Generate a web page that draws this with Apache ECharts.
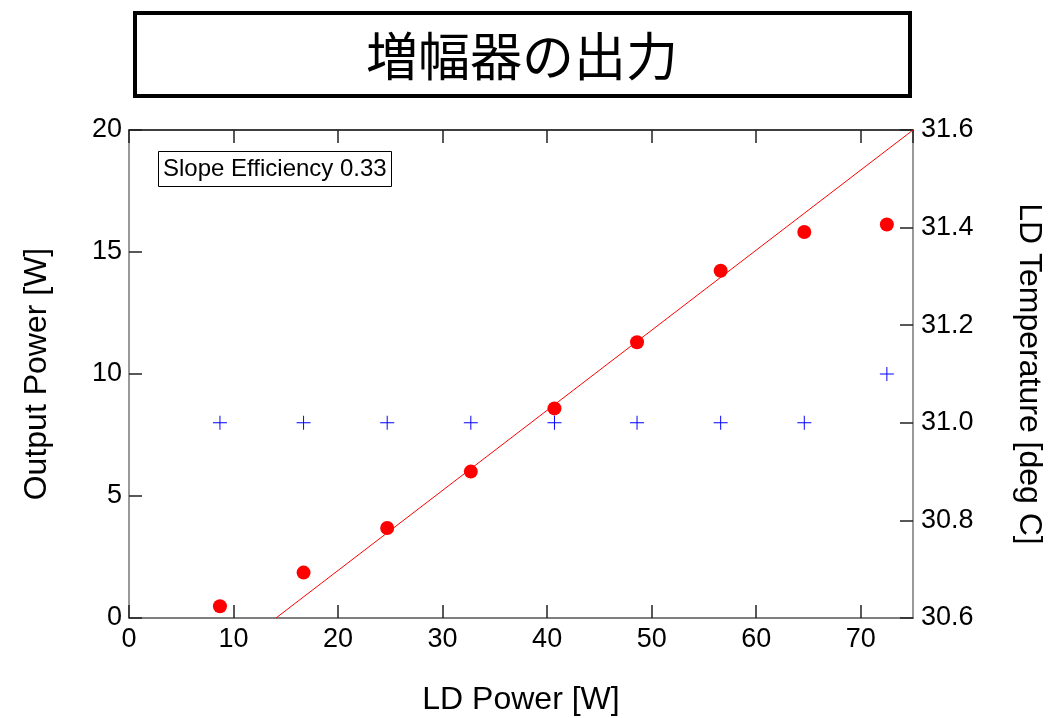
<!DOCTYPE html>
<html>
<head>
<meta charset="utf-8">
<script src="https://cdn.jsdelivr.net/npm/echarts@6/dist/echarts.min.js"></script>
<style>html,body{margin:0;padding:0;background:#fff;}#chart{width:1055px;height:718px;}</style>
</head>
<body>
<div id="chart"></div>
<script>
// ---- data ----
var ldPower = [8.7, 16.7, 24.7, 32.7, 40.7, 48.6, 56.6, 64.6, 72.5];
var outputPower = [0.48, 1.86, 3.69, 6.0, 8.59, 11.3, 14.23, 15.82, 16.13];
var ldTemperature = [31.0, 31.0, 31.0, 31.0, 31.0, 31.0, 31.0, 31.0, 31.1];
var fitX = [14.06, 75];
var fitY = [0, 20];
var titleText = '増幅器の出力';
var slopeText = 'Slope Efficiency 0.33';
var xName = 'LD Power [W]';
var yLeftName = 'Output Power [W]';
var yRightName = 'LD Temperature [deg C]';

function zip(a, b) { return a.map(function (v, i) { return [v, b[i]]; }); }

var FONT = "'Liberation Sans', Arial, sans-serif";
var crossPath = 'path://M9.3,0H10.7V9.3H20V10.7H10.7V20H9.3V10.7H0V9.3H9.3Z';

var chart = echarts.init(document.getElementById('chart'), null, {renderer: 'canvas'});
var option = {
  animation: false,
  backgroundColor: '#fff',
  textStyle: {fontFamily: FONT},
  title: [{
    text: slopeText,
    left: 158, top: 151,
    borderColor: '#000', borderWidth: 1,
    padding: [6, 5, 6, 5],
    textStyle: {fontFamily: FONT, fontSize: 24, fontWeight: 'normal', color: '#000'}
  }],
  graphic: [{
    type: 'rect',
    shape: {x: 135, y: 13, width: 775, height: 83},
    style: {fill: '#fff', stroke: '#000', lineWidth: 4}
  }, {
    type: 'text',
    x: 522, y: 56,
    style: {
      text: titleText,
      font: "normal 52px 'Noto Sans CJK JP'",
      fill: '#000',
      align: 'center',
      verticalAlign: 'middle'
    }
  }],
  grid: {left: 129, right: 142, top: 130, bottom: 100, containLabel: false, outerBoundsMode: 'none'},
  xAxis: [{
    type: 'value', min: 0, max: 75, interval: 10,
    position: 'bottom',
    name: xName, nameLocation: 'middle', nameGap: 66,
    nameTextStyle: {fontFamily: FONT, fontSize: 32, color: '#000'},
    axisLine: {show: true, onZero: false, lineStyle: {color: '#555', width: 1.5}},
    axisTick: {show: true, inside: true, length: 13, lineStyle: {color: '#222', width: 1.5}},
    axisLabel: {fontFamily: FONT, fontSize: 27, color: '#000', margin: 8, showMaxLabel: false},
    splitLine: {show: false}
  }, {
    type: 'value', min: 0, max: 75, interval: 10,
    position: 'top',
    axisLine: {show: true, onZero: false, lineStyle: {color: '#000', width: 1.5}},
    axisTick: {show: true, inside: true, length: 13, lineStyle: {color: '#222', width: 1.5}},
    axisLabel: {show: false},
    splitLine: {show: false}
  }],
  yAxis: [{
    type: 'value', min: 0, max: 20, interval: 5,
    position: 'left',
    name: yLeftName, nameLocation: 'middle', nameGap: 76, nameRotate: 90,
    nameTextStyle: {fontFamily: FONT, fontSize: 32, color: '#000'},
    axisLine: {show: true, onZero: false, lineStyle: {color: '#777', width: 1.5}},
    axisTick: {show: true, inside: true, length: 13, lineStyle: {color: '#222', width: 1.5}},
    axisLabel: {fontFamily: FONT, fontSize: 27, color: '#000', margin: 7},
    splitLine: {show: false}
  }, {
    type: 'value', min: 30.6, max: 31.6, interval: 0.2,
    position: 'right',
    name: yRightName, nameLocation: 'middle', nameGap: 100, nameRotate: -90,
    nameTextStyle: {fontFamily: FONT, fontSize: 32, color: '#000'},
    axisLine: {show: true, onZero: false, lineStyle: {color: '#777', width: 1.5}},
    axisTick: {show: true, inside: true, length: 13, lineStyle: {color: '#222', width: 1.5}},
    axisLabel: {fontFamily: FONT, fontSize: 27, color: '#000', margin: 8,
      formatter: function (v) { return v.toFixed(1); }},
    splitLine: {show: false}
  }],
  series: [{
    type: 'line',
    xAxisIndex: 0, yAxisIndex: 0,
    data: zip(fitX, fitY),
    showSymbol: false, symbol: 'none',
    lineStyle: {color: '#ff0000', width: 1},
    silent: true, z: 2
  }, {
    type: 'scatter',
    xAxisIndex: 0, yAxisIndex: 0,
    data: zip(ldPower, outputPower),
    symbol: 'circle', symbolSize: 14,
    itemStyle: {color: '#ff0000', opacity: 1},
    z: 3
  }, {
    type: 'scatter',
    xAxisIndex: 0, yAxisIndex: 1,
    data: zip(ldPower, ldTemperature),
    symbol: crossPath, symbolSize: 14, symbolKeepAspect: true,
    itemStyle: {color: '#0000ff', opacity: 1},
    z: 3
  }]
};
chart.setOption(option);
</script>
</body>
</html>
